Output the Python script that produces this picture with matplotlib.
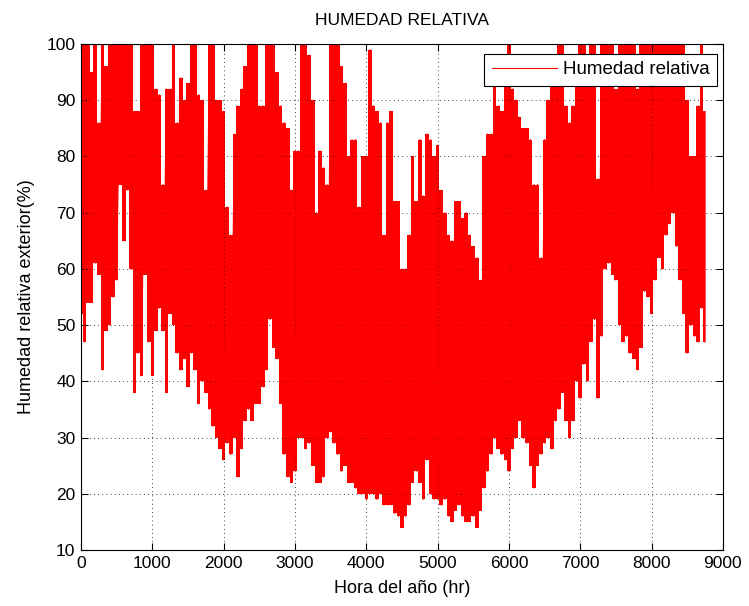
import numpy as np
import matplotlib
matplotlib.use("Agg")
import matplotlib.pyplot as plt

plt.rcParams['font.family'] = ['Liberation Sans', 'DejaVu Sans']

# hourly outdoor relative humidity, read as max / min envelope every 50 hours
hora = np.arange(0, 8760, 50)

hr_max = [100, 100, 100, 95, 100, 86, 100, 96, 100, 100,
          100, 100, 100, 100, 100, 88, 88, 100, 100, 100,
          100, 92, 91, 75, 92, 92, 100, 86, 94, 90,
          93, 100, 100, 91, 90, 74, 100, 100, 90, 90,
          88, 71, 66, 84, 89, 92, 96, 100, 100, 100,
          89, 89, 100, 100, 100, 95, 89, 86, 85, 74,
          81, 81, 100, 100, 98, 90, 70, 81, 78, 75,
          100, 100, 100, 96, 93, 80, 83, 83, 71, 80,
          80, 99, 89, 88, 86, 66, 86, 88, 72, 72,
          60, 60, 66, 80, 72, 83, 73, 84, 83, 80,
          82, 74, 70, 66, 65, 72, 72, 69, 70, 66,
          64, 62, 58, 80, 84, 84, 93, 89, 88, 95,
          100, 92, 90, 87, 85, 85, 83, 75, 75, 62,
          83, 90, 95, 95, 100, 100, 89, 86, 89, 93,
          100, 100, 95, 100, 100, 76, 100, 100, 100, 100,
          92, 100, 100, 100, 100, 100, 92, 100, 100, 100,
          100, 100, 100, 100, 100, 100, 100, 100, 100, 100,
          90, 80, 80, 89, 100, 88]

hr_min = [52, 47, 54, 54, 61, 59, 42, 49, 50, 55,
          58, 75, 65, 74, 60, 38, 45, 41, 59, 47,
          41, 49, 53, 49, 38, 52, 50, 45, 42, 44,
          39, 45, 42, 36, 40, 38, 35, 32, 30, 28,
          26, 29, 27, 30, 23, 28, 33, 35, 33, 36,
          36, 39, 42, 51, 46, 44, 36, 27, 23, 22,
          24, 30, 30, 28, 29, 25, 22, 22, 23, 30,
          31, 29, 27, 24, 25, 22, 22, 21, 20, 20,
          19, 20, 20, 19, 20, 18, 18, 18, 16.5, 16,
          14, 16, 18, 22, 24, 22, 19, 26, 20, 19,
          19, 18, 19, 16, 15, 17, 18, 16, 15, 15,
          16, 14, 17, 21, 24, 27, 30, 28, 27, 26,
          24, 28, 30, 33, 30, 29, 25, 21, 25, 27,
          29, 30, 28, 33, 35, 38, 33, 30, 33, 40,
          37, 43, 40, 47, 51, 37, 48, 60, 61, 59,
          58, 50, 47, 48, 45, 44, 42, 46, 56, 55,
          52, 58, 62, 60, 66, 68, 70, 64, 58, 52,
          45, 50, 48, 47, 53, 47]

xticks = [0, 1000, 2000, 3000, 4000, 5000, 6000, 7000, 8000, 9000]
yticks = [10, 20, 30, 40, 50, 60, 70, 80, 90, 100]

fig = plt.figure(figsize=(7.49, 6.06), dpi=100)
ax = fig.add_axes([0.1081, 0.0924, 0.8571, 0.8350])

# daily swing between max and min
x_line = np.column_stack([hora, hora]).ravel()
y_line = np.column_stack([hr_max, hr_min]).ravel()
ax.fill_between(hora, hr_min, hr_max, step='mid', color='red', lw=0)
ax.plot(x_line, y_line, color='red', lw=0.8, label='Humedad relativa')

ax.set_xlim(0, 9000)
ax.set_ylim(10, 100)
ax.set_xticks(xticks)
ax.set_yticks(yticks)
ax.grid(True, linestyle=(0, (1, 4)), color='black', lw=0.6)
ax.tick_params(direction='in', top=True, right=True, labelsize=12.5, length=5, pad=4)
for s in ax.spines.values():
    s.set_linewidth(0.8)

ax.set_title('HUMEDAD RELATIVA', fontsize=12.5, pad=14)
ax.set_xlabel('Hora del año (hr)', fontsize=13, labelpad=7)
ax.set_ylabel('Humedad relativa exterior(%)', fontsize=13, labelpad=8)

leg = ax.legend(loc='upper right', bbox_to_anchor=(0.991, 0.981), borderaxespad=0,
                fontsize=13.5, handlelength=3.5, fancybox=False, framealpha=1,
                edgecolor='black', borderpad=0.4, handletextpad=0.3)
leg.get_frame().set_linewidth(0.8)

fig.savefig('out.png', dpi=100)
